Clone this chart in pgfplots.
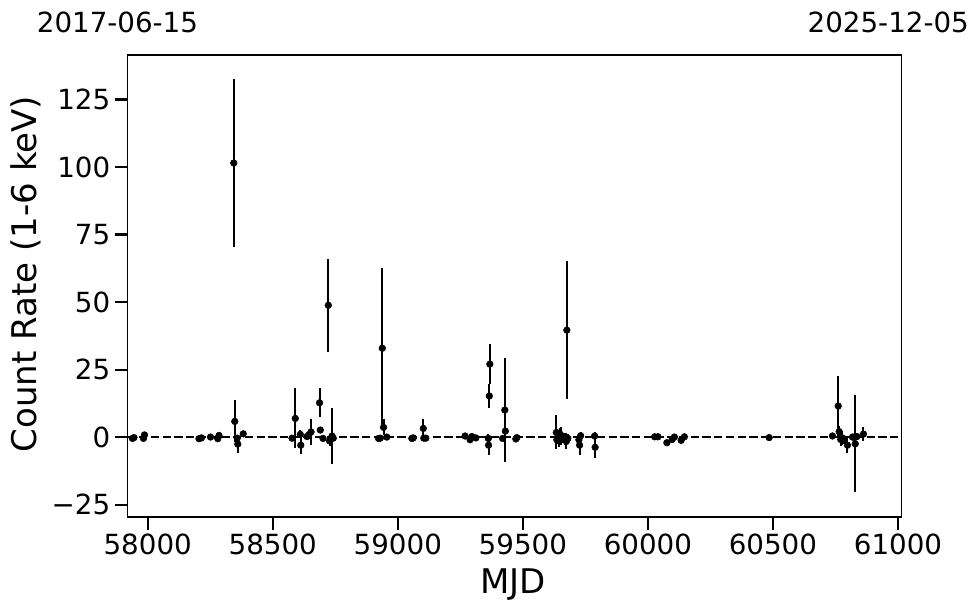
\documentclass[border=0pt]{standalone}
\usepackage{fontspec}
\setmainfont{DejaVu Sans}
\usepackage{pgfplots}
\pgfplotsset{compat=1.18}
\usepackage{pgfplotstable}

\pgfplotstableread{
x y e
57939 -0.5 0.8
57945 -0.2 0.6
57983 -0.5 0.6
57987 0.8 0.7
58205 -0.6 0.5
58215 -0.3 0.5
58251 0.0 0.5
58280 -0.6 0.6
58285 0.6 0.6
58344 101.5 31.0
58348 5.8 7.8
58358 -0.4 1.2
58360 -2.6 3.4
58382 1.2 0.8
58577 -0.4 1.0
58590 6.9 11.1
58610 1.0 1.5
58612 -3.0 3.2
58637 0.2 1.0
58644 0.8 1.2
58653 1.9 4.7
58687 12.7 5.3
58690 2.6 0.8
58701 -0.5 0.8
58722 48.8 17.3
58727 -1.4 2.0
58737 0.4 10.2
58742 -0.4 1.0
58923 -0.5 0.6
58930 -0.4 0.6
58938 32.9 29.9
58943 3.6 3.0
58956 0.0 0.6
59056 -0.5 0.6
59062 -0.3 0.5
59102 3.2 3.4
59104 -0.4 0.8
59112 -0.4 0.6
59269 0.4 0.8
59289 -1.0 1.0
59296 0.2 0.8
59312 -0.3 0.6
59362 -0.5 1.5
59363 -3.0 3.5
59366 15.2 4.5
59368 27.0 7.4
59419 -0.5 1.0
59428 10.0 19.2
59430 2.2 1.5
59472 -0.7 1.0
59476 -0.2 0.8
59634 1.7 6.3
59636 -1.0 1.5
59640 0.0 2.0
59645 -1.5 2.0
59650 1.0 2.5
59654 0.4 3.5
59660 -0.8 1.5
59665 0.0 1.5
59670 -1.0 2.0
59674 -1.6 3.0
59676 39.6 25.5
59680 -0.5 1.5
59724 -1.0 2.0
59727 -3.0 3.5
59731 0.5 1.5
59787 0.4 1.5
59789 -3.8 4.0
60027 0.1 0.5
60040 0.1 0.5
60076 -2.1 0.8
60097 -0.9 0.8
60106 0.0 0.6
60133 -1.2 0.8
60146 0.1 0.6
60485 -0.2 0.6
60738 0.4 0.6
60761 11.5 11.0
60765 2.0 2.0
60771 -0.9 2.5
60778 -0.3 2.5
60784 -1.0 1.5
60798 -3.0 3.0
60818 0.0 1.0
60824 0.0 1.0
60829 -2.5 18.0
60831 0.0 1.0
60836 0.2 1.0
60862 1.1 2.5
}\lc

\begin{document}
\begin{tikzpicture}
\useasboundingbox (-95.6pt,-72pt) rectangle (639.4pt,387.75pt);
\begin{axis}[
  at={(0pt,0pt)}, anchor=south west,
  scale only axis, width=580.5pt, height=346.5pt,
  xmin=57919, xmax=61014, ymin=-29.6, ymax=141.5,
  scaled x ticks=false, scaled y ticks=false,
  xtick={58000,58500,59000,59500,60000,60500,61000},
  xticklabels={58000,58500,59000,59500,60000,60500,61000},
  ytick={-25,0,25,50,75,100,125},
  yticklabels={−25,0,25,50,75,100,125},
  tick align=outside, major tick length=9.4pt,
  every tick/.style={line width=1.6pt, black},
  xtick pos=bottom, ytick pos=left,
  tick label style={font=\fontsize{20.8}{24}\selectfont},
  axis line style={line width=0.8pt},
  clip=true,
]
\addplot[black, line width=1.2pt, dash pattern=on 6.2pt off 2.6pt] coordinates {(57919,0) (61014,0)};
\addplot[only marks, mark=*, mark size=2.5pt, black,
  error bars/.cd, y dir=both, y explicit,
  error bar style={line width=1.5pt}, error mark=none]
  table[x=x, y=y, y error=e]{\lc};
\end{axis}
\node[font=\fontsize{20.8}{24}\selectfont] at (-7.5pt,371.25pt) {2017-06-15};
\node[font=\fontsize{20.8}{24}\selectfont] at (570.6pt,371.25pt) {2025-12-05};
\node[font=\fontsize{25.5}{30}\selectfont, anchor=base] at (289.4pt,-57.2pt) {MJD};
\node[font=\fontsize{25.5}{30}\selectfont, rotate=90] at (-76.1pt,182.2pt) {Count Rate (1-6 keV)};
\end{tikzpicture}
\end{document}
